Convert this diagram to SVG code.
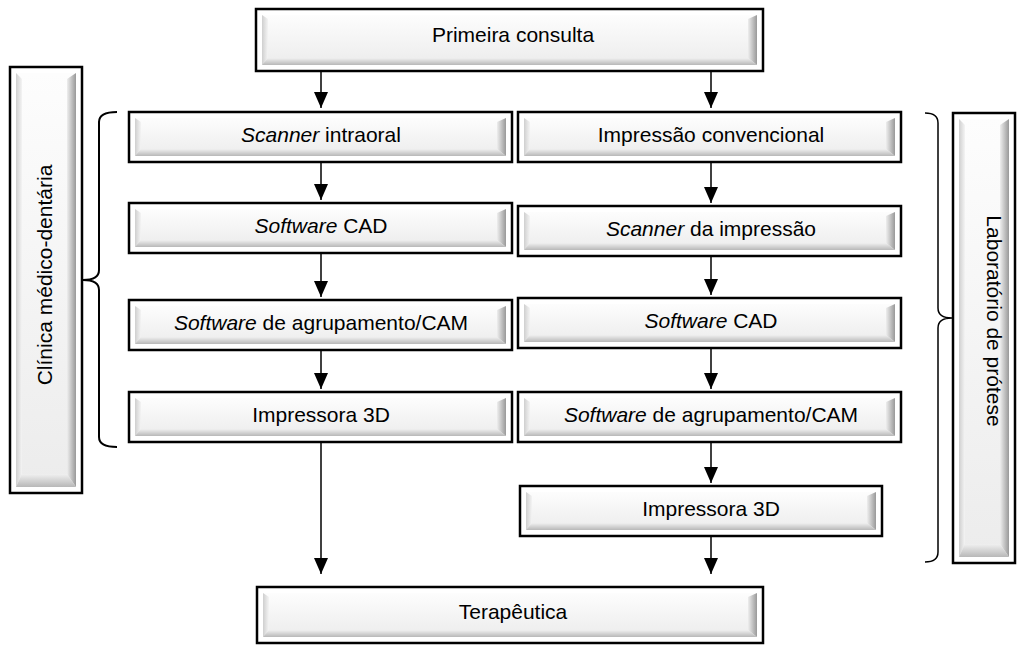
<svg xmlns="http://www.w3.org/2000/svg" width="1018" height="646" viewBox="0 0 1018 646">
<defs>
<linearGradient id="gFace" x1="0" y1="0" x2="0" y2="1"><stop offset="0" stop-color="#fdfdfd"/><stop offset="1" stop-color="#ececec"/></linearGradient>
<linearGradient id="gL" x1="0" y1="0" x2="1" y2="0"><stop offset="0" stop-color="#cfcfcf"/><stop offset="1" stop-color="#f4f4f4"/></linearGradient>
<linearGradient id="gR" x1="0" y1="0" x2="1" y2="0"><stop offset="0" stop-color="#eeeeee"/><stop offset="1" stop-color="#999999"/></linearGradient>
<linearGradient id="gB" x1="0" y1="0" x2="0" y2="1"><stop offset="0" stop-color="#f0f0f0"/><stop offset="1" stop-color="#b8b8b8"/></linearGradient>
<marker id="arr" markerUnits="userSpaceOnUse" markerWidth="17" markerHeight="14" refX="16" refY="7" orient="auto"><path d="M0,0 L16,7 L0,14 z" fill="#000"/></marker>
</defs>
<style>
.outer{fill:#fff;stroke:#000;stroke-width:2.5}
.face{fill:url(#gFace)}
.bl{fill:url(#gL)}
.br{fill:url(#gR)}
.bb{fill:url(#gB)}
text{font-family:"Liberation Sans",Arial,sans-serif;font-size:21px;fill:#000;text-anchor:middle}
.it{font-style:italic}
.conn{stroke:#000;stroke-width:1.5;fill:none;marker-end:url(#arr)}
.brace{stroke:#000;fill:none}
</style>
<rect width="1018" height="646" fill="#fff"/>

<g id="primeira">
<g transform="translate(256,9)">
<rect class="outer" width="507" height="62"/>
<rect class="face" x="6" y="6" width="495" height="50"/>
<polygon class="bl" points="6,6 12,10 12,49 6,56"/>
<polygon class="br" points="501,6 492,10 492,49 501,56"/>
<polygon class="bb" points="6,56 12,49 492,49 501,56"/>
<text x="257" y="33">Primeira consulta</text>
</g>
</g>

<g id="L1"><g transform="translate(129,112)">
<rect class="outer" width="383" height="50"/>
<rect class="face" x="6" y="6" width="371" height="38"/>
<polygon class="bl" points="6,6 12,10 12,37 6,44"/>
<polygon class="br" points="377,6 368,10 368,37 377,44"/>
<polygon class="bb" points="6,44 12,37 368,37 377,44"/>
<text x="192" y="30"><tspan class="it">Scanner</tspan> intraoral</text>
</g></g>

<g id="L2"><g transform="translate(129,203)">
<rect class="outer" width="383" height="50"/>
<rect class="face" x="6" y="6" width="371" height="38"/>
<polygon class="bl" points="6,6 12,10 12,37 6,44"/>
<polygon class="br" points="377,6 368,10 368,37 377,44"/>
<polygon class="bb" points="6,44 12,37 368,37 377,44"/>
<text x="192" y="30"><tspan class="it">Software</tspan> CAD</text>
</g></g>

<g id="L3"><g transform="translate(129,300)">
<rect class="outer" width="383" height="50"/>
<rect class="face" x="6" y="6" width="371" height="38"/>
<polygon class="bl" points="6,6 12,10 12,37 6,44"/>
<polygon class="br" points="377,6 368,10 368,37 377,44"/>
<polygon class="bb" points="6,44 12,37 368,37 377,44"/>
<text x="192" y="30"><tspan class="it">Software</tspan> de agrupamento/CAM</text>
</g></g>

<g id="L4"><g transform="translate(129,392)">
<rect class="outer" width="383" height="50"/>
<rect class="face" x="6" y="6" width="371" height="38"/>
<polygon class="bl" points="6,6 12,10 12,37 6,44"/>
<polygon class="br" points="377,6 368,10 368,37 377,44"/>
<polygon class="bb" points="6,44 12,37 368,37 377,44"/>
<text x="192" y="30">Impressora 3D</text>
</g></g>

<g id="R1"><g transform="translate(518,112)">
<rect class="outer" width="383" height="50"/>
<rect class="face" x="6" y="6" width="371" height="38"/>
<polygon class="bl" points="6,6 12,10 12,37 6,44"/>
<polygon class="br" points="377,6 368,10 368,37 377,44"/>
<polygon class="bb" points="6,44 12,37 368,37 377,44"/>
<text x="193" y="30">Impressão convencional</text>
</g></g>

<g id="R2"><g transform="translate(518,206)">
<rect class="outer" width="383" height="50"/>
<rect class="face" x="6" y="6" width="371" height="38"/>
<polygon class="bl" points="6,6 12,10 12,37 6,44"/>
<polygon class="br" points="377,6 368,10 368,37 377,44"/>
<polygon class="bb" points="6,44 12,37 368,37 377,44"/>
<text x="193" y="30"><tspan class="it">Scanner</tspan> da impressão</text>
</g></g>

<g id="R3"><g transform="translate(518,298)">
<rect class="outer" width="383" height="50"/>
<rect class="face" x="6" y="6" width="371" height="38"/>
<polygon class="bl" points="6,6 12,10 12,37 6,44"/>
<polygon class="br" points="377,6 368,10 368,37 377,44"/>
<polygon class="bb" points="6,44 12,37 368,37 377,44"/>
<text x="193" y="30"><tspan class="it">Software</tspan> CAD</text>
</g></g>

<g id="R4"><g transform="translate(518,392)">
<rect class="outer" width="383" height="50"/>
<rect class="face" x="6" y="6" width="371" height="38"/>
<polygon class="bl" points="6,6 12,10 12,37 6,44"/>
<polygon class="br" points="377,6 368,10 368,37 377,44"/>
<polygon class="bb" points="6,44 12,37 368,37 377,44"/>
<text x="193" y="30"><tspan class="it">Software</tspan> de agrupamento/CAM</text>
</g></g>

<g id="R5"><g transform="translate(520,486)">
<rect class="outer" width="362" height="50"/>
<rect class="face" x="6" y="6" width="350" height="38"/>
<polygon class="bl" points="6,6 12,10 12,37 6,44"/>
<polygon class="br" points="356,6 347,10 347,37 356,44"/>
<polygon class="bb" points="6,44 12,37 347,37 356,44"/>
<text x="191" y="30">Impressora 3D</text>
</g></g>

<g id="terapeutica"><g transform="translate(257,587)">
<rect class="outer" width="506" height="56"/>
<rect class="face" x="6" y="6" width="494" height="44"/>
<polygon class="bl" points="6,6 12,10 12,43 6,50"/>
<polygon class="br" points="500,6 491,10 491,43 500,50"/>
<polygon class="bb" points="6,50 12,43 491,43 500,50"/>
<text x="256" y="32">Terapêutica</text>
</g></g>

<g id="clinica"><g transform="translate(10,67)">
<rect class="outer" width="72" height="426"/>
<rect class="face" x="6" y="6" width="60" height="414"/>
<polygon class="bl" points="6,6 12,12 12,407 6,420"/>
<polygon class="br" points="66,6 57,12 57,407 66,420"/>
<polygon class="bb" points="6,420 12,407 57,407 66,420"/>
<text transform="translate(42,208) rotate(-90)">Clínica médico-dentária</text>
</g></g>

<g id="laboratorio"><g transform="translate(953,113)">
<rect class="outer" width="62" height="450"/>
<rect class="face" x="6" y="6" width="50" height="438"/>
<polygon class="bl" points="6,6 12,12 12,431 6,444"/>
<polygon class="br" points="56,6 47,12 47,431 56,444"/>
<polygon class="bb" points="6,444 12,431 47,431 56,444"/>
<text transform="translate(34,208) rotate(90)">Laboratório de prótese</text>
</g></g>

<g id="brackets">
<path class="brace" stroke-width="2" d="M117,112 Q99,112 99,122 L99,270 Q99,280 83,280 Q99,280 99,290 L99,437 Q99,447 117,447"/>
<path class="brace" stroke-width="1.5" d="M925,113 Q938,113 938,123 L938,308 Q938,318 952,318 Q938,318 938,328 L938,552 Q938,562 925,562"/>
</g>

<g id="connectors">
<line class="conn" x1="321" y1="71" x2="321" y2="108"/>
<line class="conn" x1="711" y1="71" x2="711" y2="108"/>
<line class="conn" x1="321" y1="162" x2="321" y2="200"/>
<line class="conn" x1="321" y1="253" x2="321" y2="297"/>
<line class="conn" x1="321" y1="350" x2="321" y2="389"/>
<line class="conn" x1="321" y1="442" x2="321" y2="574"/>
<line class="conn" x1="711" y1="162" x2="711" y2="203"/>
<line class="conn" x1="711" y1="256" x2="711" y2="295"/>
<line class="conn" x1="711" y1="348" x2="711" y2="389"/>
<line class="conn" x1="711" y1="442" x2="711" y2="483"/>
<line class="conn" x1="711" y1="536" x2="711" y2="574"/>
</g>
</svg>
